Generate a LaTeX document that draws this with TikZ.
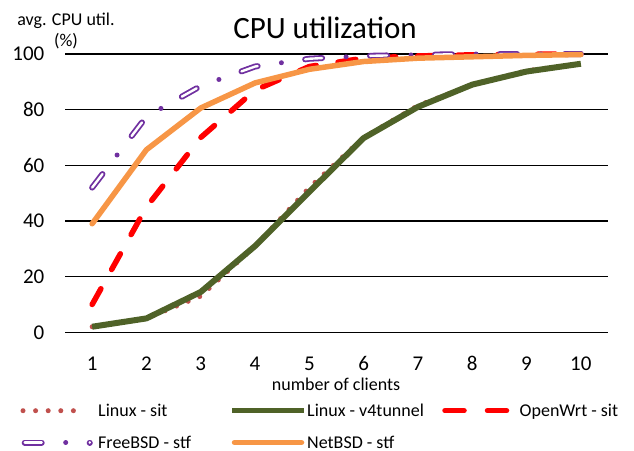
\documentclass[tikz,border=0pt]{standalone}
\usepackage{fontspec}
\setmainfont{Carlito}
\definecolor{lsit}{HTML}{C0504D}
\definecolor{lvfour}{HTML}{4F6228}
\definecolor{owrt}{HTML}{FF0000}
\definecolor{fbsd}{HTML}{7030A0}
\definecolor{nbsd}{HTML}{F79646}
\tikzset{
  gridln/.style={black, line width=1.6pt},
  sitln/.style={lsit, line width=5pt, line cap=round, line join=round, dash pattern=on 0pt off 12.5pt},
  vfourln/.style={lvfour, line width=6pt, line join=round},
  owrtln/.style={owrt, line width=5.5pt, line cap=round, line join=round, dash pattern=on 18pt off 22pt},
  fbsdout/.style={fbsd, line width=6pt, line cap=round, line join=round, dash pattern=on 17pt off 48pt},
  fbsdin/.style={white, line width=2.4pt, line cap=round, line join=round, dash pattern=on 17pt off 48pt},
  fbsddot/.style={fbsd, line width=5pt, line cap=round, line join=round, dash pattern=on 0pt off 65pt, dash phase=24pt},
  nbsdln/.style={nbsd, line width=5.5pt, line cap=round, line join=round},
  ticklab/.style={inner sep=0pt, font=\fontsize{21}{25}\selectfont},
  legtxt/.style={inner sep=0pt, anchor=base west, font=\fontsize{18}{21.6}\selectfont},
  axtxt/.style={inner sep=0pt, anchor=base, font=\fontsize{18}{21.6}\selectfont}
}
\begin{document}
\begin{tikzpicture}[x=1pt,y=-1pt]
\useasboundingbox (0,0) rectangle (634,450);
% title
\node[inner sep=0pt, anchor=base, font=\fontsize{31}{37}\selectfont] (title) at (325,38.3) {CPU utilization};
\node[axtxt] (ytitleA) at (66,25.5) {avg. CPU util.};
\node[axtxt] (ytitleB) at (66,46.4) {(\%)};
\node[axtxt] (xtitle) at (336,390) {number of clients};
% gridlines
\foreach \v in {0,20,...,100} {
  \draw[gridln] (65,{332.3-2.783*\v}) -- (608,{332.3-2.783*\v});
  \node[ticklab, anchor=east] (yl\v) at (44.5,{332.3-2.783*\v}) {\v};
}
\foreach \i in {1,...,10} {
  \node[ticklab] (xl\i) at ({92.15+54.3*(\i-1)},363.7) {\i};
}
\begin{scope}[shift={(37.85,332.3)}, x=54.3pt, y=2.783pt]
\draw[sitln] plot coordinates {(1,2) (2,5) (3,13) (4,31) (5,52) (6,70) (7,81.5) (8,89) (9,94) (10,96.5)};
\draw[vfourln] plot coordinates {(1,2) (2,5) (3,14.5) (4,31) (5,50.5) (6,69.8) (7,81) (8,89) (9,93.7) (10,96.5)};
\draw[owrtln] plot coordinates {(1,10) (2,45) (3,70) (4,87) (5,95.5) (6,98.5) (7,99.3) (8,99.7) (9,99.9) (10,100)};
\draw[fbsdout] plot coordinates {(1,52) (2,77.5) (3,88.5) (4,95.5) (5,98.3) (6,99.3) (7,99.7) (8,100) (9,100) (10,100)};
\draw[fbsdin] plot coordinates {(1,52) (2,77.5) (3,88.5) (4,95.5) (5,98.3) (6,99.3) (7,99.7) (8,100) (9,100) (10,100)};
\draw[fbsddot] plot coordinates {(1,52) (2,77.5) (3,88.5) (4,95.5) (5,98.3) (6,99.3) (7,99.7) (8,100) (9,100) (10,100)};
\draw[nbsdln] plot coordinates {(1,39) (2,65.6) (3,80.6) (4,89.6) (5,94.5) (6,97.3) (7,98.5) (8,99) (9,99.5) (10,99.8)};
\end{scope}
% legend
\coordinate (lsA) at (23,410.7);
\coordinate (lsB) at (86,410.7);
\draw[sitln, dash pattern=on 0pt off 12.6pt] (lsA) -- (lsB);
\node[legtxt] (lsit) at (98,416.5) {Linux - sit};
\coordinate (lvA) at (232,410.7);
\coordinate (lvB) at (304,410.7);
\draw[vfourln, line width=5pt] (lvA) -- (lvB);
\node[legtxt] (lvfour) at (307,416.5) {Linux - v4tunnel};
\coordinate (loA) at (445,410.7);
\coordinate (loB) at (506.5,410.7);
\draw[owrtln, dash pattern=on 19pt off 23.5pt] (loA) -- (loB);
\node[legtxt] (lowrt) at (519.5,416.5) {OpenWrt - sit};
\coordinate (lfA) at (24.7,442.5);
\coordinate (lfB) at (89.8,442.5);
\draw[fbsdout] (lfA) -- (lfB);
\draw[fbsdin] (lfA) -- (lfB);
\draw[fbsddot] (lfA) -- (lfB);
\node[legtxt] (lfbsd) at (98,448.2) {FreeBSD - stf};
\coordinate (lnA) at (234.5,442.5);
\coordinate (lnB) at (301.5,442.5);
\draw[nbsdln] (lnA) -- (lnB);
\node[legtxt] (lnbsd) at (307,448.2) {NetBSD - stf};
\end{tikzpicture}
\end{document}
